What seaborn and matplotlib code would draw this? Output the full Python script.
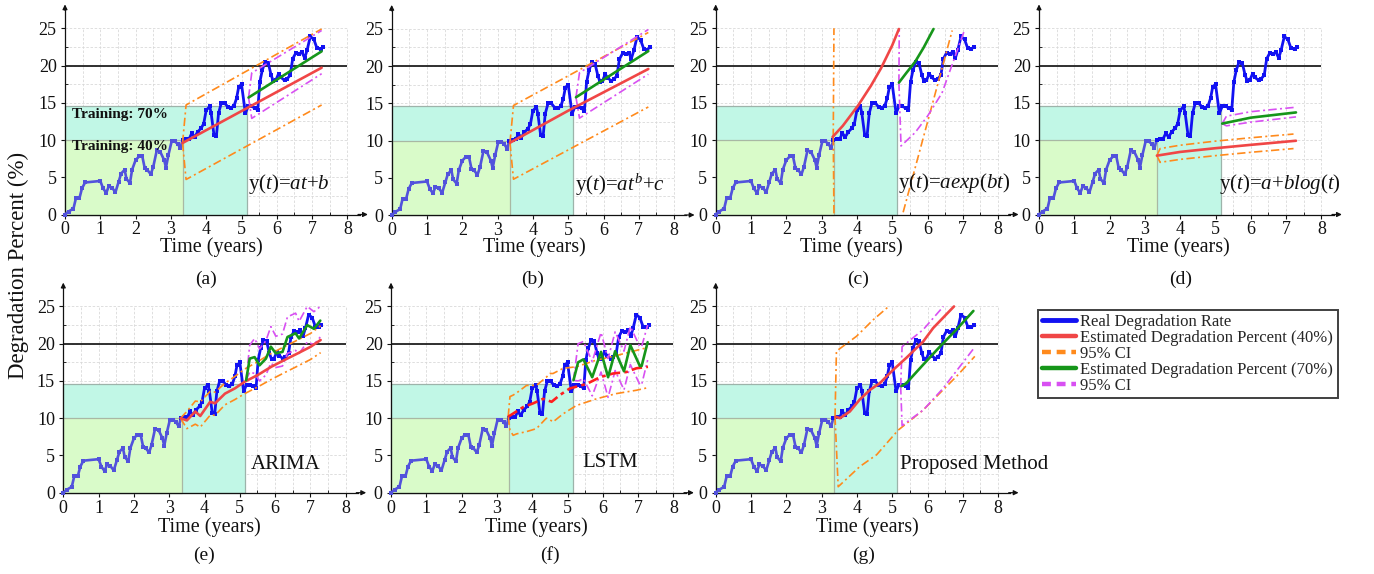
import numpy as np
import matplotlib
matplotlib.use("Agg")
import matplotlib.pyplot as plt
import seaborn as sns
from matplotlib.lines import Line2D
from matplotlib.patches import Rectangle

# ---------------- data ----------------
real_t = [0.0, 0.1, 0.24, 0.31, 0.41, 0.48, 0.57, 1.0, 1.08, 1.17, 1.24, 1.33, 1.43, 1.52, 1.59,
          1.69, 1.74, 1.84, 1.9, 2.0, 2.1, 2.19, 2.26, 2.33, 2.43, 2.5, 2.6, 2.7, 2.81, 2.86, 2.93,
          3.02, 3.11, 3.19, 3.27, 3.33, 3.43, 3.52, 3.59, 3.67, 3.76, 3.86, 3.93, 4.0, 4.1, 4.14,
          4.22, 4.29, 4.35, 4.43, 4.52, 4.62, 4.7, 4.79, 4.86, 4.92, 5.0, 5.11, 5.19, 5.29, 5.38,
          5.46, 5.52, 5.59, 5.67, 5.76, 5.84, 5.9, 5.97, 6.05, 6.12, 6.22, 6.29, 6.38, 6.45, 6.54,
          6.64, 6.71, 6.79, 6.86, 6.95, 7.05, 7.14, 7.24, 7.31]
real_y = [0.0, 0.4, 0.8, 2.2, 2.2, 3.5, 4.3, 4.5, 3.5, 2.9, 3.8, 3.6, 3.0, 4.4, 5.5,
          6.0, 4.8, 4.2, 6.0, 7.3, 7.8, 7.8, 6.2, 6.0, 5.4, 6.4, 8.6, 8.4, 7.3, 6.3, 8.0,
          9.8, 9.8, 9.5, 8.9, 10.0, 10.1, 10.2, 10.9, 10.4, 11.1, 11.6, 12.2, 14.0, 14.5, 13.6,
          10.7, 10.6, 13.6, 15.0, 15.0, 14.4, 14.3, 14.6, 15.6, 17.1, 17.5, 13.6, 14.5, 14.5, 14.3,
          14.0, 17.8, 19.4, 20.5, 20.3, 18.7, 17.9, 18.0, 18.9, 18.4, 18.0, 18.2, 18.7, 20.9, 21.7,
          21.6, 21.8, 21.0, 22.1, 23.9, 23.5, 22.3, 22.2, 22.5]

split_40 = 3.35     # end of 40 % training window (years)
level_40 = 10.0
split_70 = 5.15     # end of 70 % training window
level_70 = 14.6
threshold = 20.0

# (a) linear
a_fit40_t = [3.33, 7.27];        a_fit40_y = [9.6, 19.7]
a_ci40_hi_t = [3.33, 3.43, 7.27]; a_ci40_hi = [9.6, 14.7, 24.9]
a_ci40_lo_t = [3.33, 3.43, 7.27]; a_ci40_lo = [9.6, 4.7, 14.7]
a_fit70_t = [5.2, 7.27];         a_fit70_y = [15.7, 21.9]
a_ci70_hi_t = [5.2, 5.29, 7.27];  a_ci70_hi = [15.7, 19.0, 24.7]
a_ci70_lo_t = [5.2, 5.29, 7.27];  a_ci70_lo = [15.7, 12.9, 18.9]

# (b) power
b_fit40_t = [3.35, 5.0, 7.27];    b_fit40_y = [9.7, 14.0, 19.6]
b_ci40_hi_t = [3.35, 3.45, 7.27]; b_ci40_hi = [9.7, 14.7, 24.5]
b_ci40_lo_t = [3.35, 3.45, 7.27]; b_ci40_lo = [9.7, 4.8, 14.5]
b_fit70_t = [5.22, 7.27];         b_fit70_y = [15.8, 22.0]
b_ci70_hi_t = [5.22, 5.32, 7.27]; b_ci70_hi = [15.8, 19.1, 24.9]
b_ci70_lo_t = [5.22, 5.32, 7.27]; b_ci70_lo = [15.8, 13.0, 18.9]

# (c) exponential
c_fit40_t = [3.31, 3.6, 4.03, 4.4, 4.68, 5.0, 5.19]
c_fit40_y = [10.4, 11.9, 14.6, 17.3, 19.6, 22.7, 24.9]
c_ci40_hi_t = [3.33, 3.35];       c_ci40_hi = [10.4, 25.0]
c_ci40_lo_t = [3.33, 3.35, None, 5.31, 6.0, 6.7]
c_ci40_lo = [10.4, 0.0, None, 0.3, 12.4, 24.7]
c_fit70_t = [5.19, 5.4, 5.65, 5.89, 6.17]
c_fit70_y = [17.7, 19.0, 20.5, 22.4, 24.9]
c_ci70_hi_t = [5.19, 5.2];        c_ci70_hi = [17.7, 24.9]
c_ci70_lo_t = [5.19, 5.25, 5.65, 6.0, 6.41, 7.06]
c_ci70_lo = [17.7, 9.2, 11.0, 13.2, 16.3, 24.9]

# (d) logarithmic
d_fit40_t = [3.34, 4.0, 5.0, 6.0, 7.28];          d_fit40_y = [7.9, 8.4, 8.9, 9.35, 9.9]
d_ci40_hi_t = [3.34, 3.43, 4.0, 5.0, 6.0, 7.21];  d_ci40_hi = [7.9, 8.85, 9.3, 9.85, 10.3, 10.8]
d_ci40_lo_t = [3.34, 3.43, 4.0, 5.0, 6.0, 7.21];  d_ci40_lo = [7.9, 7.0, 7.4, 7.9, 8.35, 8.85]
d_fit70_t = [5.19, 6.0, 7.28];                    d_fit70_y = [12.2, 13.0, 13.7]
d_ci70_hi_t = [5.19, 5.31, 6.0, 7.28];            d_ci70_hi = [12.2, 13.2, 13.8, 14.4]
d_ci70_lo_t = [5.19, 5.31, 6.0, 7.28];            d_ci70_lo = [12.2, 11.9, 12.4, 13.1]

# (e) ARIMA
e_fit40_t = [3.32, 3.5, 3.74, 3.88, 4.16, 4.3, 4.58, 4.86, 5.14, 5.51, 5.89, 6.26, 6.64, 7.01, 7.29]
e_fit40_y = [10.0, 9.7, 10.9, 10.3, 12.2, 12.0, 13.3, 14.0, 14.9, 15.8, 16.9, 17.8, 18.7, 19.6, 20.5]
e_ci40_hi_t = e_fit40_t
e_ci40_hi = [10.0, 10.9, 12.3, 12.2, 13.6, 13.5, 14.7, 15.6, 16.6, 17.6, 18.7, 19.6, 20.5, 21.4, 22.4]
e_ci40_lo_t = e_fit40_t
e_ci40_lo = [10.0, 8.6, 9.2, 8.8, 10.4, 10.4, 11.8, 12.5, 13.3, 14.2, 15.2, 16.1, 17.0, 17.9, 18.8]
e_fit70_t = [5.18, 5.28, 5.42, 5.56, 5.74, 5.88, 6.02, 6.21, 6.35, 6.58, 6.68, 6.91, 7.1, 7.28]
e_fit70_y = [15.1, 18.0, 18.2, 17.1, 18.0, 19.6, 18.7, 18.9, 20.9, 21.4, 20.7, 22.5, 22.0, 23.1]
e_ci70_hi_t = e_fit70_t
e_ci70_hi = [15.1, 19.8, 20.7, 19.3, 20.4, 22.3, 21.0, 21.3, 23.6, 24.1, 23.0, 25.0, 24.3, 25.0]
e_ci70_lo_t = e_fit70_t
e_ci70_lo = [15.1, 16.2, 16.0, 15.0, 15.8, 17.4, 16.8, 17.0, 18.7, 19.1, 18.7, 20.2, 19.9, 20.9]

# (f) LSTM
f_fit40_t = [3.32, 3.55, 3.75, 4.03, 4.31, 4.55, 4.78, 5.07, 5.54, 5.92, 6.29, 6.67, 6.95, 7.28]
f_fit40_y = [10.2, 10.9, 11.5, 12.0, 12.6, 12.2, 13.1, 14.0, 14.6, 15.5, 16.0, 16.2, 16.7, 16.9]
f_ci40_hi_t = [3.32, 3.37, 3.46, 3.56, 3.84, 4.12, 4.4, 4.5, 4.59, 4.88, 5.25, 5.82, 6.38, 6.95, 7.28]
f_ci40_hi = [10.2, 12.9, 13.1, 13.4, 14.4, 14.4, 15.5, 16.0, 16.0, 16.7, 16.9, 17.8, 18.4, 19.1, 19.5]
f_ci40_lo_t = f_ci40_hi_t
f_ci40_lo = [10.2, 8.4, 7.7, 7.9, 8.2, 8.6, 10.0, 9.8, 9.5, 10.6, 11.7, 12.6, 13.3, 13.75, 14.1]
f_fit70_t = [5.17, 5.3, 5.45, 5.7, 5.95, 6.15, 6.35, 6.6, 6.78, 7.05, 7.1, 7.27]
f_fit70_y = [15.1, 17.5, 17.9, 15.5, 18.9, 15.5, 19.0, 16.3, 19.8, 17.0, 17.0, 20.2]
f_ci70_hi_t = f_fit70_t
f_ci70_hi = [15.1, 20.0, 20.3, 17.6, 21.5, 18.0, 21.6, 19.0, 22.3, 19.6, 19.6, 22.5]
f_ci70_lo_t = f_fit70_t
f_ci70_lo = [15.1, 15.0, 15.3, 13.0, 16.2, 12.8, 16.4, 13.8, 17.2, 14.5, 14.5, 17.8]

# (g) proposed
g_fit40_t = [3.4, 3.52, 3.8, 4.08, 4.37, 4.65, 5.03, 5.4, 5.88, 6.16, 6.75]
g_fit40_y = [10.2, 10.0, 10.9, 12.5, 13.8, 14.7, 16.5, 18.1, 20.3, 22.1, 25.0]
g_ci40_hi_t = [3.38, 3.42, 3.99, 4.46, 4.9]
g_ci40_hi = [10.2, 19.0, 21.0, 23.2, 25.0]
g_ci40_lo_t = [3.38, 3.47, 4.08, 4.56, 5.17, 5.88, 6.44, 6.82, 7.34]
g_ci40_lo = [10.2, 0.8, 3.5, 5.1, 8.4, 11.1, 13.8, 15.6, 18.3]
g_fit70_t = [5.26, 5.4, 5.88, 6.35, 6.82, 7.3]
g_fit70_y = [14.3, 14.7, 17.2, 19.6, 21.9, 24.4]
g_ci70_hi_t = [5.24, 5.28, 5.88, 6.45]
g_ci70_hi = [14.3, 19.6, 21.9, 25.0]
g_ci70_lo_t = [5.24, 5.28, 5.88, 6.44, 7.3]
g_ci70_lo = [14.3, 9.0, 11.1, 14.0, 19.3]

panel_letters = ["(a)", "(b)", "(c)", "(d)", "(e)", "(f)", "(g)"]
panel_names = [r"y($t$)=$at$+$b$", r"y($t$)=$at^b$+$c$", r"y($t$)=$aexp(bt)$",
               r"y($t$)=$a$+$blog(t)$", "ARIMA", "LSTM", "Proposed Method"]
legend_labels = ["Real Degradation Rate", "Estimated Degradation Percent (40%)", "95% CI",
                 "Estimated Degradation Percent (70%)", "95% CI"]

# ---------------- style ----------------
sns.set_style("ticks")
plt.rcParams['font.family'] = ['Liberation Serif', 'DejaVu Serif']
plt.rcParams['mathtext.fontset'] = 'custom'
plt.rcParams['mathtext.rm'] = 'Liberation Serif'
plt.rcParams['mathtext.it'] = 'Liberation Serif:italic'
plt.rcParams['mathtext.bf'] = 'Liberation Serif:bold'

BLUE, BLUE_L = '#1212f2', '#5252dc'
RED, RED_F = '#f04646', '#ff1e1e'
ORANGE = '#ff8a1c'
GREEN = '#16961a'
MAGENTA = '#d850f2'
RECT_G, RECT_C = '#d9fbc9', '#c1f7e6'
DASHDOT = (0, (5, 2, 1.2, 2))

W, H = 1374, 574
fig = plt.figure(figsize=(W / 100, H / 100), dpi=100)

PXX, PXY = 35.3, 7.45
XMIN, XMAX, YMIN, YMAX = -0.3, 8.75, -0.8, 28.6

origins = [(65, 214.5), (391.7, 215), (715.7, 214.5), (1039, 214.5),
           (63.3, 492.7), (391, 492.7), (715.7, 492.7)]
xlabel_x = [4.15, 4.03, 3.84, 3.96, 4.15, 4.13, 4.3]
letter_x = [4.0, 4.0, 4.03, 4.0, 4.0, 4.5, 4.2]
name_x = [5.18, 5.2, 5.17, 5.11, 5.3, 5.42, 5.22]
name_y = [4.1, 4.1, 4.2, 4.1, 3.85, 4.0, 3.85]


def make_ax(ox, oy):
    l = ox + XMIN * PXX
    r = ox + XMAX * PXX
    b = oy - YMIN * PXY
    t = oy - YMAX * PXY
    ax = fig.add_axes([l / W, 1 - b / H, (r - l) / W, (b - t) / H])
    ax.patch.set_alpha(0)
    return ax


def draw(ax, t, y, color, ls='-', lw=1.6, z=4, **kw):
    # split on None into separate segments
    segs, cur_t, cur_y = [], [], []
    for ti, yi in zip(t, y):
        if ti is None:
            segs.append((cur_t, cur_y)); cur_t, cur_y = [], []
        else:
            cur_t.append(ti); cur_y.append(yi)
    segs.append((cur_t, cur_y))
    for st, sy in segs:
        sns.lineplot(x=np.asarray(st, float), y=np.asarray(sy, float), ax=ax, color=color,
                     linestyle=ls, linewidth=lw, sort=False, estimator=None, zorder=z,
                     legend=False, **kw)


series = {
    'a': (a_fit40_t, a_fit40_y, a_ci40_hi_t, a_ci40_hi, a_ci40_lo_t, a_ci40_lo,
          a_fit70_t, a_fit70_y, a_ci70_hi_t, a_ci70_hi, a_ci70_lo_t, a_ci70_lo),
    'b': (b_fit40_t, b_fit40_y, b_ci40_hi_t, b_ci40_hi, b_ci40_lo_t, b_ci40_lo,
          b_fit70_t, b_fit70_y, b_ci70_hi_t, b_ci70_hi, b_ci70_lo_t, b_ci70_lo),
    'c': (c_fit40_t, c_fit40_y, c_ci40_hi_t, c_ci40_hi, c_ci40_lo_t, c_ci40_lo,
          c_fit70_t, c_fit70_y, c_ci70_hi_t, c_ci70_hi, c_ci70_lo_t, c_ci70_lo),
    'd': (d_fit40_t, d_fit40_y, d_ci40_hi_t, d_ci40_hi, d_ci40_lo_t, d_ci40_lo,
          d_fit70_t, d_fit70_y, d_ci70_hi_t, d_ci70_hi, d_ci70_lo_t, d_ci70_lo),
    'e': (e_fit40_t, e_fit40_y, e_ci40_hi_t, e_ci40_hi, e_ci40_lo_t, e_ci40_lo,
          e_fit70_t, e_fit70_y, e_ci70_hi_t, e_ci70_hi, e_ci70_lo_t, e_ci70_lo),
    'f': (f_fit40_t, f_fit40_y, f_ci40_hi_t, f_ci40_hi, f_ci40_lo_t, f_ci40_lo,
          f_fit70_t, f_fit70_y, f_ci70_hi_t, f_ci70_hi, f_ci70_lo_t, f_ci70_lo),
    'g': (g_fit40_t, g_fit40_y, g_ci40_hi_t, g_ci40_hi, g_ci40_lo_t, g_ci40_lo,
          g_fit70_t, g_fit70_y, g_ci70_hi_t, g_ci70_hi, g_ci70_lo_t, g_ci70_lo),
}

n_train = sum(1 for v in real_t if v <= split_40)

for i, key in enumerate("abcdefg"):
    ox, oy = origins[i]
    ax = make_ax(ox, oy)

    # grid inside 0..8 x 0..25
    ax.vlines(np.arange(0.5, 8.01, 0.5), 0, 25, colors='#d9d9d9', lw=0.6,
              linestyles=[(0, (3, 2))], zorder=0)
    ax.hlines(np.arange(2.5, 25.01, 2.5), 0, 8, colors='#d9d9d9', lw=0.6,
              linestyles=[(0, (3, 2))], zorder=0)

    # training windows
    ax.add_patch(Rectangle((0, 0), split_70, level_70, facecolor=RECT_C,
                           edgecolor='#9db3aa', lw=0.9, zorder=1))
    ax.add_patch(Rectangle((0, 0), split_40, level_40, facecolor=RECT_G,
                           edgecolor='#a9b8a4', lw=0.9, zorder=1.1))
    ax.hlines(threshold, 0, 8, colors='#202020', lw=1.3, zorder=1.5)

    # real degradation
    draw(ax, real_t[:n_train], real_y[:n_train], BLUE_L, lw=1.9, z=3,
         marker='s', markersize=2.6, markeredgewidth=0)
    draw(ax, real_t[n_train - 1:], real_y[n_train - 1:], BLUE, lw=2.0, z=3,
         marker='s', markersize=2.6, markeredgewidth=0)

    (f40t, f40y, c40ht, c40h, c40lt, c40l, f70t, f70y, c70ht, c70h, c70lt, c70l) = series[key]
    draw(ax, c40ht, c40h, ORANGE, ls=DASHDOT, lw=1.2, z=4)
    draw(ax, c40lt, c40l, ORANGE, ls=DASHDOT, lw=1.2, z=4)
    draw(ax, c70ht, c70h, MAGENTA, ls=DASHDOT, lw=1.2, z=4)
    draw(ax, c70lt, c70l, MAGENTA, ls=DASHDOT, lw=1.2, z=4)
    if key == 'f':
        draw(ax, f40t, f40y, RED_F, ls=(0, (4, 1.6, 1.4, 1.6)), lw=1.9, z=5)
    else:
        draw(ax, f40t, f40y, RED, lw=1.9, z=5)
    draw(ax, f70t, f70y, GREEN, lw=1.9, z=5)

    ax.set_xlim(XMIN, XMAX)
    ax.set_ylim(YMIN, YMAX)
    ax.set_xlabel("")
    ax.set_ylabel("")

    # axes with arrows
    for s in ['top', 'right']:
        ax.spines[s].set_visible(False)
    ax.spines['left'].set_position(('data', 0))
    ax.spines['bottom'].set_position(('data', 0))
    ax.spines['left'].set_bounds(0, 27.6)
    ax.spines['bottom'].set_bounds(0, 8.35)
    for s in ['left', 'bottom']:
        ax.spines[s].set_color('#111111')
        ax.spines[s].set_linewidth(0.9)
    ax.annotate("", xy=(8.58, 0), xytext=(8.3, 0),
                arrowprops=dict(arrowstyle="-|>", color='#111111', lw=0.9, mutation_scale=7,
                                shrinkA=0, shrinkB=0), annotation_clip=False)
    ax.annotate("", xy=(0, 28.2), xytext=(0, 27.4),
                arrowprops=dict(arrowstyle="-|>", color='#111111', lw=0.9, mutation_scale=7,
                                shrinkA=0, shrinkB=0), annotation_clip=False)

    ax.set_xticks(range(0, 9))
    ax.set_yticks(range(0, 26, 5))
    ax.set_xticks(np.arange(0.5, 8.01, 1.0), minor=True)
    ax.set_yticks(np.arange(2.5, 25.01, 5.0), minor=True)
    ax.tick_params(axis='both', which='major', direction='out', length=3, width=0.8,
                   labelsize=13, colors='#111111')
    ax.tick_params(axis='x', which='major', pad=2)
    ax.tick_params(axis='y', which='major', pad=3)
    ax.tick_params(axis='both', which='minor', direction='in', length=2.5, width=0.7)

    # panel annotation text
    ax.text(name_x[i], name_y[i], panel_names[i], fontsize=15, ha='left', va='center',
            color='#111111', zorder=6)
    if key == 'a':
        ax.text(0.19, 13.4, "Training: 70%", fontsize=11, fontweight='bold', ha='left',
                va='center', color='#111111', zorder=6)
        ax.text(0.19, 9.1, "Training: 40%", fontsize=11, fontweight='bold', ha='left',
                va='center', color='#111111', zorder=6)

    top_row = i < 4
    xl_y = 247 if top_row else 527
    lt_y = 279 if top_row else 555
    fig.text((ox + xlabel_x[i] * PXX) / W, 1 - xl_y / H, "Time (years)", fontsize=14.5,
             ha='center', va='center', color='#111111')
    fig.text((ox + letter_x[i] * PXX) / W, 1 - lt_y / H, panel_letters[i], fontsize=14,
             ha='center', va='center', color='#111111')

fig.text(18 / W, 1 - 265 / H, "Degradation Percent (%)", rotation=90, fontsize=16.5,
         ha='center', va='center', color='#111111')

handles = [Line2D([], [], color=BLUE, lw=3.5),
           Line2D([], [], color=RED, lw=3.2),
           Line2D([], [], color=ORANGE, lw=3.2, ls=(0, (2, 1.3))),
           Line2D([], [], color=GREEN, lw=3.2),
           Line2D([], [], color=MAGENTA, lw=3.2, ls=(0, (2, 1.3)))]
leg = fig.legend(handles, legend_labels, loc='upper left', bbox_to_anchor=(1038 / W, 1 - 310 / H),
                 frameon=True, fancybox=False, edgecolor='#111111', fontsize=12,
                 handlelength=2.0, handletextpad=0.3, labelspacing=0.0, borderpad=0.25,
                 borderaxespad=0)
leg.get_frame().set_linewidth(1.4)

fig.savefig("out.png", dpi=100)
